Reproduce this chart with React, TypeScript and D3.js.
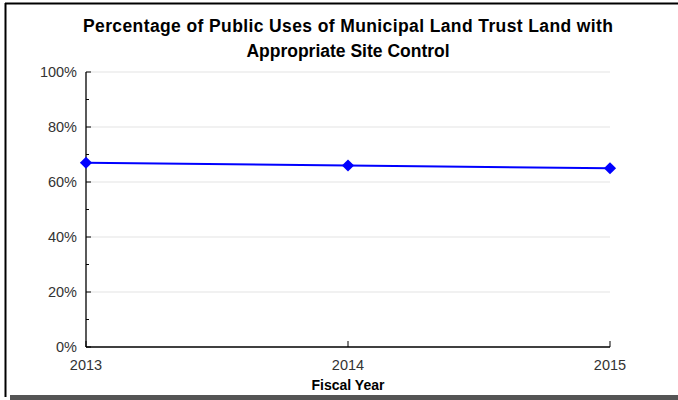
import React from "react";
import * as d3 from "d3";

const years = ["2013", "2014", "2015"];
const values = [67, 66, 65];
const yTicks = [0, 20, 40, 60, 80, 100];
const yMinorTicks = [10, 30, 50, 70, 90];
const titleLines = [
  "Percentage of Public Uses of Municipal Land Trust Land with",
  "Appropriate Site Control",
];
const xTitle = "Fiscal Year";

export default function App() {
  const W = 678, H = 400;
  const left = 86, right = 610, top = 72, bottom = 347;
  const x = d3.scalePoint<string>().domain(years).range([left, right]);
  const y = d3.scaleLinear().domain([0, 100]).range([bottom, top]);
  const line = d3
    .line<number>()
    .x((_, i) => x(years[i]) as number)
    .y((d) => y(d));
  const font = "'Liberation Sans', Arial, sans-serif";
  const diamond = d3.symbol().type(d3.symbolDiamond2).size(95)();
  return (
    <div style={{ position: "fixed", left: 0, top: 0 }}>
      <svg width={W} height={H} style={{ display: "block" }}>
        <rect x={0} y={0} width={W} height={H} fill="#fff" />
        <rect x={10} y={395} width={668} height={5} fill="#555" />
        <line x1={5} y1={3.5} x2={678} y2={3.5} stroke="#000" strokeWidth={2} />
        <line x1={5.5} y1={3} x2={5.5} y2={397} stroke="#000" strokeWidth={2} />
        {titleLines.map((t, i) => (
          <text
            key={i}
            x={348}
            y={32 + i * 25}
            textAnchor="middle"
            fontFamily={font}
            fontWeight="bold"
            fontSize={17.5}
            fill="#000"
            textLength={i === 0 ? 530 : undefined}
          >
            {t}
          </text>
        ))}
        {yTicks.map((t) =>
          t === 0 ? null : (
            <line key={"g" + t} x1={left} x2={right} y1={y(t)} y2={y(t)} stroke="#e3e3e3" strokeWidth={1} />
          )
        )}
        {yTicks.map((t) => (
          <g key={"y" + t}>
            <line x1={left} x2={left + 5} y1={y(t)} y2={y(t)} stroke="#000" />
            <text x={77} y={y(t) + 5} textAnchor="end" fontFamily={font} fontSize={14.5} fill="#333">
              {t + "%"}
            </text>
          </g>
        ))}
        {yMinorTicks.map((t) => (
          <line key={"m" + t} x1={left} x2={left + 3} y1={y(t)} y2={y(t)} stroke="#000" />
        ))}
        <line x1={left} x2={left} y1={top} y2={bottom} stroke="#000" strokeWidth={1.3} />
        <line x1={left} x2={right} y1={bottom} y2={bottom} stroke="#000" strokeWidth={1.3} />
        {years.map((yr) => (
          <g key={yr}>
            <line x1={x(yr)} x2={x(yr)} y1={bottom} y2={bottom - 6} stroke="#000" />
            <text x={x(yr)} y={370} textAnchor="middle" fontFamily={font} fontSize={14.5} fill="#333">
              {yr}
            </text>
          </g>
        ))}
        <text x={348} y={390} textAnchor="middle" fontFamily={font} fontWeight="bold" fontSize={14} fill="#000">
          {xTitle}
        </text>
        <path d={line(values) || ""} fill="none" stroke="#0000ff" strokeWidth={2} />
        {values.map((v, i) => (
          <path
            key={i}
            d={diamond || ""}
            transform={`translate(${x(years[i])},${y(v)})`}
            fill="#0000ff"
          />
        ))}
      </svg>
    </div>
  );
}
